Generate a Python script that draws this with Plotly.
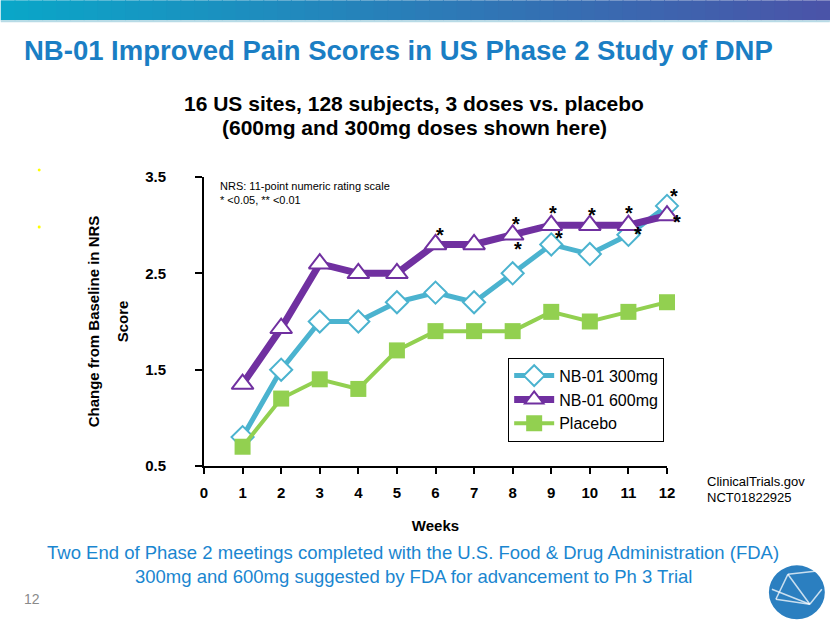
import plotly.graph_objects as go

weeks = [1, 2, 3, 4, 5, 6, 7, 8, 9, 10, 11, 12]
nb300 = [0.8, 1.5, 2.0, 2.0, 2.2, 2.3, 2.2, 2.5, 2.8, 2.7, 2.9, 3.2]
nb600 = [1.35, 1.93, 2.6, 2.5, 2.5, 2.8, 2.8, 2.9, 3.0, 3.0, 3.0, 3.1]
placebo = [0.7, 1.2, 1.4, 1.3, 1.7, 1.9, 1.9, 1.9, 2.1, 2.0, 2.1, 2.2]
# significance stars: anchor week, value, pixel offsets
star_x = [6, 8, 8, 9, 9, 10, 11, 11, 12, 12]
star_y = [2.95, 3.06, 2.80, 3.18, 2.92, 3.16, 3.18, 2.96, 3.35, 3.09]
star_dx = [4, 3, 5, 2, 8, 2, 1, 10, 7, 10]
x_ticks = list(range(0, 13))
y_ticks = [0.5, 1.5, 2.5, 3.5]

W, H = 830, 623
L, R, T, B = 203.5, 163, 177, 156.5

fig = go.Figure()
fig.add_trace(go.Scatter(
    x=weeks, y=nb300, name="NB-01 300mg", mode="lines+markers",
    line=dict(color="#4bb3cf", width=5),
    marker=dict(symbol="diamond", size=17, color="white", line=dict(color="#4bb3cf", width=2)),
    cliponaxis=False))
fig.add_trace(go.Scatter(
    x=weeks, y=nb600, name="NB-01 600mg", mode="lines+markers",
    line=dict(color="#7030a0", width=7),
    marker=dict(symbol="triangle-up", size=19, color="white", line=dict(color="#7030a0", width=2)),
    cliponaxis=False))
fig.add_trace(go.Scatter(
    x=weeks, y=placebo, name="Placebo", mode="lines+markers",
    line=dict(color="#92d050", width=4),
    marker=dict(symbol="square", size=16, color="#92d050"),
    cliponaxis=False))

for sx, sy, dx in zip(star_x, star_y, star_dx):
    fig.add_annotation(x=sx, y=sy, xref="x", yref="y", text="<b>*</b>", showarrow=False,
                       font=dict(family="Liberation Sans", size=20, color="black"),
                       xshift=dx, yshift=-5)


def px(x):
    return (x - L) / (W - L - R)


def py(y):
    return (H - B - y) / (H - T - B)


# top gradient band
n = 60
c0 = (10, 166, 200)
c1 = (74, 84, 168)
for i in range(n):
    t = i / (n - 1)
    col = "rgb(%d,%d,%d)" % tuple(round(a + (b - a) * t) for a, b in zip(c0, c1))
    fig.add_shape(type="rect", xref="paper", yref="paper",
                  x0=px(i * W / n), x1=px((i + 1) * W / n + 1),
                  y0=py(20), y1=py(0), line=dict(width=0), fillcolor=col, layer="below")

fig.add_shape(type="line", xref="paper", yref="paper", x0=px(0), x1=px(W), y0=py(21), y1=py(21),
              line=dict(color="#b8dbe6", width=2))

# logo
fig.add_shape(type="circle", xref="paper", yref="paper", x0=px(769), x1=px(825), y0=py(566), y1=py(620),
              line=dict(width=0), fillcolor="#2b7fc0")
for (a, b, c, d) in [(788, 575, 810, 605), (788, 575, 776, 600), (776, 600, 810, 605),
                     (788, 575, 815, 572), (810, 605, 822, 590), (772, 590, 810, 605)]:
    fig.add_shape(type="line", xref="paper", yref="paper", x0=px(a), y0=py(b), x1=px(c), y1=py(d),
                  line=dict(color="rgba(255,255,255,0.75)", width=1.5))

# tiny yellow bullets
for yy in [170, 227]:
    fig.add_shape(type="circle", xref="paper", yref="paper", x0=px(37), x1=px(40),
                  y0=py(yy - 1.5), y1=py(yy + 1.5), line=dict(width=0), fillcolor="#ffff00")


def txt(x, y, s, size, color="black", bold=False, xanchor="center"):
    fig.add_annotation(x=px(x), y=py(y), xref="paper", yref="paper", text=("<b>%s</b>" % s) if bold else s,
                       showarrow=False, xanchor=xanchor, yanchor="middle",
                       font=dict(family="Liberation Sans", size=size, color=color))


txt(398, 50, "NB-01 Improved Pain Scores in US Phase 2 Study of DNP", 27.5, "#1a7ec4", True)
txt(414, 103, "16 US sites, 128 subjects, 3 doses vs. placebo", 21, "black", True)
txt(414, 127, "(600mg and 300mg doses shown here)", 21, "black", True)
txt(218, 186, "NRS: 11-point numeric rating scale", 11, "black", False, "left")
txt(218, 200, "* <0.05, ** <0.01", 11, "black", False, "left")
txt(705, 482, "ClinicalTrials.gov", 13, "black", False, "left")
txt(705, 498, "NCT01822925", 13, "black", False, "left")
txt(413, 553, "Two End of Phase 2 meetings completed with the U.S. Food &amp; Drug Administration (FDA)", 18.5, "#1a86d0")
txt(413, 577, "300mg and 600mg suggested by FDA for advancement to Ph 3 Trial", 18.5, "#1a86d0")
txt(31, 600, "12", 14, "#8a8a8a")
txt(93, 322, "Change from Baseline in NRS", 15, "black", True)
txt(122, 322, "Score", 15, "black", True)
fig.layout.annotations[-2].textangle = -90
fig.layout.annotations[-1].textangle = -90

fig.update_layout(
    width=W, height=H,
    margin=dict(l=L, r=R, t=T, b=B, pad=0),
    paper_bgcolor="white", plot_bgcolor="white",
    font=dict(family="Liberation Sans", color="black"),
    showlegend=True,
    legend=dict(x=px(508), y=py(358), xanchor="left", yanchor="top",
                bordercolor="black", borderwidth=1, bgcolor="white",
                font=dict(family="Liberation Sans", size=16), tracegroupgap=0,
                itemwidth=40),
    xaxis=dict(range=[0, 12], tickvals=x_ticks, ticktext=[str(v) for v in x_ticks],
               showgrid=False, zeroline=False, showline=True, linecolor="black", linewidth=2,
               ticks="outside", ticklen=6, tickwidth=2, tickcolor="black", ticklabelstandoff=6,
               tickfont=dict(family="Liberation Sans", size=15, color="black", weight="bold"),
               title=dict(text="<b>Weeks</b>", font=dict(size=15), standoff=20)),
    yaxis=dict(range=[0.5, 3.5], tickvals=y_ticks, ticktext=[str(v) for v in y_ticks],
               showgrid=False, zeroline=False, showline=True, linecolor="black", linewidth=2,
               ticks="outside", ticklen=7, tickwidth=2, tickcolor="black", ticklabelstandoff=26,
               tickfont=dict(family="Liberation Sans", size=15, color="black", weight="bold")),
)

fig.write_html("out.html")
